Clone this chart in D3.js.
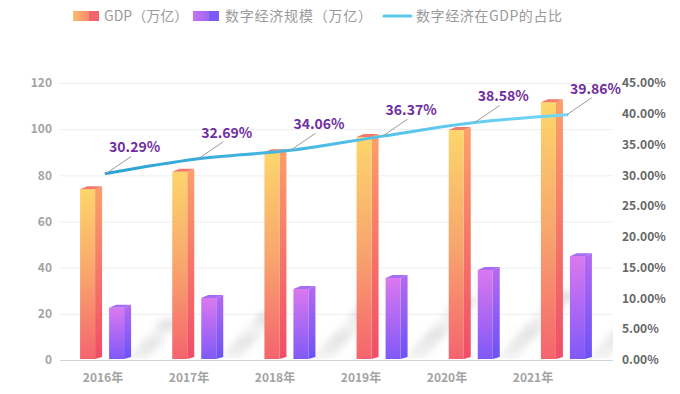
<!DOCTYPE html>
<html>
<head>
<meta charset="utf-8">
<script src="https://cdn.jsdelivr.net/npm/d3@7/dist/d3.min.js"></script>
<style>
html,body{margin:0;padding:0;background:#fff;}
svg{display:block;font-family:"Noto Sans CJK SC","Noto Sans",sans-serif;}
</style>
</head>
<body>
<svg id="chart" width="680" height="394"></svg>
<script>
const years = ['2016年','2017年','2018年','2019年','2020年','2021年'];
const gdp = [74, 81.5, 90, 96.6, 99.6, 111.7];
const digital = [22.6, 26.9, 30.8, 35.5, 39.0, 45.0];
const share = [30.29, 32.69, 34.06, 36.37, 38.58, 39.86];
const leftTicks = [0, 20, 40, 60, 80, 100, 120];
const rightTicks = [0, 5, 10, 15, 20, 25, 30, 35, 40, 45];
const legendNames = ['GDP（万亿）', '数字经济规模（万亿）', '数字经济在GDP的占比'];

const svg = d3.select('#chart');
const defs = svg.append('defs');

const plotL = 60, plotR = 613, plotT = 83, plotB = 360;
const x = d3.scaleBand().domain(years).range([plotL, plotR]).padding(0);
const xLab = d3.scaleBand().domain(years).range([plotL, 576]).padding(0);
const y = d3.scaleLinear().domain([0, 120]).range([plotB, plotT]);
const y2 = d3.scaleLinear().domain([0, 45]).range([plotB, plotT]);

function vgrad(id, stops) {
  const g = defs.append('linearGradient').attr('id', id).attr('x1', 0).attr('y1', 0).attr('x2', 0).attr('y2', 1);
  stops.forEach(s => g.append('stop').attr('offset', s[0]).attr('stop-color', s[1]).attr('stop-opacity', s[2] == null ? 1 : s[2]));
}
function hgrad(id, stops) {
  const g = defs.append('linearGradient').attr('id', id).attr('x1', 0).attr('y1', 0).attr('x2', 1).attr('y2', 0);
  stops.forEach(s => g.append('stop').attr('offset', s[0]).attr('stop-color', s[1]));
  return g;
}
vgrad('gFront', [[0, '#fcd66b'], [0.5, '#f8a66d'], [1, '#f5646e']]);
vgrad('gSide', [[0, '#fca06a'], [1, '#f04d68']]);
vgrad('dFront', [[0, '#db78ef'], [1, '#8059f8']]);
vgrad('dSide', [[0, '#b56af2'], [1, '#6a52f8']]);
vgrad('shadowG', [[0, '#a0a0a0', 0.45], [0.35, '#c8c8c8', 0.2], [0.6, '#b0b0b0', 0.35], [1, '#c0c0c0', 0.2]]);
hgrad('legG', [[0, '#fbbd6b'], [0.62, '#f98a6c'], [0.63, '#f5636e'], [1, '#f5636e']]);
hgrad('legD', [[0, '#c773f1'], [0.62, '#9d66f4'], [0.63, '#7a5cf8'], [1, '#7a5cf8']]);
const lg = defs.append('linearGradient').attr('id', 'lineG').attr('gradientUnits', 'userSpaceOnUse')
  .attr('x1', x(years[0]) + x.bandwidth() / 2).attr('x2', x(years[5]) + x.bandwidth() / 2).attr('y1', 0).attr('y2', 0);
lg.append('stop').attr('offset', 0).attr('stop-color', '#2aa2d4');
lg.append('stop').attr('offset', 1).attr('stop-color', '#72d7f7');
defs.append('filter').attr('id', 'blur').attr('x', '-50%').attr('y', '-50%').attr('width', '200%').attr('height', '200%')
  .append('feGaussianBlur').attr('stdDeviation', 3.5);
defs.append('clipPath').attr('id', 'plotClip').append('rect')
  .attr('x', plotL).attr('y', plotT - 20).attr('width', plotR - plotL).attr('height', plotB - plotT + 19);

// grid
svg.append('g').selectAll('line').data(leftTicks.slice(1)).join('line')
  .attr('x1', plotL).attr('x2', plotR).attr('y1', d => y(d) + 0.5).attr('y2', d => y(d) + 0.5)
  .attr('stroke', '#eeeeee').attr('stroke-width', 1);
svg.append('line').attr('x1', plotL).attr('x2', plotR).attr('y1', plotB + 0.5).attr('y2', plotB + 0.5)
  .attr('stroke', '#d4d4d4').attr('stroke-width', 1);

// left axis labels
svg.append('g').selectAll('text').data(leftTicks).join('text')
  .attr('x', 52).attr('y', d => y(d)).attr('dy', '0.35em').attr('text-anchor', 'end')
  .attr('font-size', 12).attr('font-weight', 'bold').attr('fill', '#a3a3a3').text(d => d);
// right axis labels
svg.append('g').selectAll('text').data(rightTicks).join('text')
  .attr('x', 622).attr('y', d => y2(d)).attr('dy', '0.35em').attr('text-anchor', 'start')
  .attr('font-size', 12).attr('font-weight', 'bold').attr('fill', '#666').text(d => d.toFixed(2) + '%');
// x labels
svg.append('g').selectAll('text').data(years).join('text')
  .attr('x', d => xLab(d) + xLab.bandwidth() / 2).attr('y', 378).attr('dy', '0.35em').attr('text-anchor', 'middle')
  .attr('font-size', 12).attr('font-weight', 'bold').attr('fill', '#a3a3a3').text(d => d);

const fw = 15, sdx = 7, sdy = 3;
const base = y(0) - 1;

// shadows behind digital bars
const shadowG = svg.append('g').attr('clip-path', 'url(#plotClip)');
years.forEach((yr, i) => {
  const c = x(yr) + x.bandwidth() / 2;
  const xr = c + 3 + fw + sdx;
  const h = base - y(digital[i]);
  const dy = h * 0.75, dx = dy * 0.9;
  shadowG.append('polygon')
    .attr('points', [[xr - 4, base], [xr + 16, base], [xr + 16 + dx, base - dy], [xr - 4 + dx, base - dy]].map(p => p.join(',')).join(' '))
    .attr('fill', 'url(#shadowG)').attr('filter', 'url(#blur)');
});

function bar3d(g, x0, yt, front, side, cap) {
  g.append('polygon').attr('points', [[x0 + fw, yt], [x0 + fw + sdx, yt - sdy], [x0 + fw + sdx, base - sdy + 1], [x0 + fw, base]].map(p => p.join(',')).join(' '))
    .attr('fill', side);
  g.append('rect').attr('x', x0).attr('y', yt).attr('width', fw).attr('height', base - yt).attr('fill', front);
  g.append('polygon').attr('points', [[x0, yt], [x0 + sdx, yt - sdy], [x0 + fw + sdx, yt - sdy], [x0 + fw, yt]].map(p => p.join(',')).join(' '))
    .attr('fill', cap);
}
const barsG = svg.append('g');
years.forEach((yr, i) => {
  const c = x(yr) + x.bandwidth() / 2;
  bar3d(barsG, c - 26, y(gdp[i]), 'url(#gFront)', 'url(#gSide)', '#f47b6c');
  bar3d(barsG, c + 3, y(digital[i]), 'url(#dFront)', 'url(#dSide)', '#a46ef3');
});

// line
const pts = years.map((yr, i) => [x(yr) + x.bandwidth() / 2, y2(share[i])]);
svg.append('path').attr('d', d3.line().curve(d3.curveMonotoneX)(pts))
  .attr('fill', 'none').attr('stroke', 'url(#lineG)').attr('stroke-width', 3).attr('stroke-linecap', 'round');

// labels with leader lines
const labG = svg.append('g');
pts.forEach((p, i) => {
  labG.append('line').attr('x1', p[0]).attr('y1', p[1]).attr('x2', p[0] + 25).attr('y2', p[1] - 17)
    .attr('stroke', '#9a9a9a').attr('stroke-width', 1);
  labG.append('text').attr('x', p[0] + 3).attr('y', p[1] - 26).attr('dy', '0.35em')
    .attr('font-size', 14).attr('font-weight', 'bold').attr('fill', '#6f2ea0')
    .text(share[i].toFixed(2) + '%');
});

// legend
const leg = svg.append('g').attr('font-size', 14).attr('fill', '#9a9a9a');
leg.append('rect').attr('x', 73).attr('y', 11).attr('width', 26).attr('height', 10).attr('fill', 'url(#legG)');
leg.append('text').attr('x', 104).attr('y', 16).attr('dy', '0.35em').text(legendNames[0]);
leg.append('rect').attr('x', 193).attr('y', 11).attr('width', 26).attr('height', 10).attr('fill', 'url(#legD)');
leg.append('text').attr('x', 225).attr('y', 16).attr('dy', '0.35em').attr('textLength', 147).text(legendNames[1]);
leg.append('line').attr('x1', 384).attr('x2', 411).attr('y1', 16).attr('y2', 16)
  .attr('stroke', '#5cc9f0').attr('stroke-width', 3).attr('stroke-linecap', 'round');
leg.append('text').attr('x', 416).attr('y', 16).attr('dy', '0.35em').attr('textLength', 146).text(legendNames[2]);
</script>
</body>
</html>
